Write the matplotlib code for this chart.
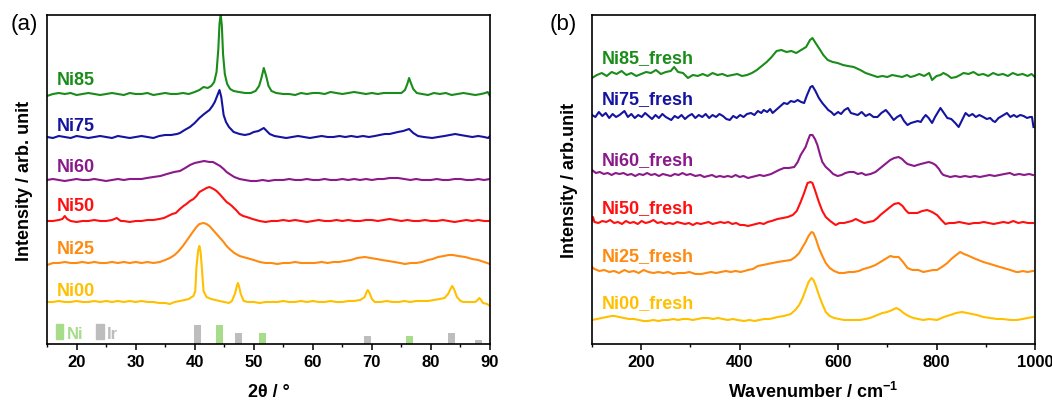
import numpy as np
import matplotlib
matplotlib.use("Agg")
import matplotlib.pyplot as plt
from matplotlib.patches import Patch
from matplotlib.ticker import MultipleLocator

plt.rcParams['font.family'] = ['Liberation Sans', 'DejaVu Sans']
plt.rcParams['mathtext.fontset'] = 'custom'
plt.rcParams['mathtext.bf'] = 'Liberation Sans:bold'
plt.rcParams['mathtext.rm'] = 'Liberation Sans:bold'

# ---- (a) XRD, 2theta vs intensity (height above each curve's baseline) ----
ni85 = [(15, -2), (16, 0), (17, 1), (18, 0), (19, 1), (20, -1), (21, 0), (22, 1), (23, 0), (24, -1),
        (25, 0), (26, 1), (27, 0), (28, -1), (29, 1), (30, 0), (31, 0), (32, 1), (33, -1), (34, 0),
        (35, 1), (36, 0), (37, 0), (38, 1), (39, 0), (40, 2), (40.8, 4), (41.5, 7), (42.2, 6), (42.8, 8),
        (43.3, 12), (43.7, 22), (44.0, 45), (44.2, 70), (44.4, 80), (44.6, 68), (44.8, 40), (45.1, 20),
        (45.5, 10), (46.0, 5), (46.6, 3), (47.5, 2), (48.5, 1), (49.5, 1), (50.3, 3), (50.9, 8), (51.3, 16),
        (51.7, 26), (52.1, 18), (52.5, 8), (53.0, 3), (53.8, 1), (55, 0), (56, 0), (57, -1), (58, 1), (59, 0),
        (60, 1), (61, 1), (62, 0), (63, 2), (64, 1), (65, 0), (66, 1), (67, 2), (68, 1), (69, 0), (70, 1),
        (71, 0), (72, 1), (73, 1), (74, 1), (75, 1), (75.6, 4), (76.0, 10), (76.3, 16), (76.6, 11), (77.0, 5),
        (77.6, 1), (78.5, 0), (79.5, -1), (80.5, 1), (81.5, 0), (82.5, 1), (83.5, -1), (84.5, 0), (85.5, 1),
        (86.5, 0), (87.5, -1), (88.5, 0), (89.2, 1), (89.6, 2), (90, -2)]
ni75 = [(15, 0), (16, -1), (17, 1), (18, 0), (19, -1), (20, 1), (21, 0), (22, -1), (23, 0), (24, 1), (25, 0),
        (26, -1), (27, 1), (28, 0), (29, -1), (30, 0), (31, 1), (32, 0), (33, -1), (34, 1), (35, 2), (36, 2),
        (37, 3), (37.5, 4), (38.3, 7), (39.2, 10), (40, 14), (40.8, 19), (41.6, 23), (42.5, 27), (43.0, 31),
        (43.4, 35), (43.8, 41), (44.2, 47), (44.5, 40), (44.9, 22), (45.3, 15), (45.8, 10), (46.6, 5),
        (47.6, 3), (48.5, 2), (49.3, 3), (50, 5), (50.8, 6), (51.7, 9), (52.2, 6), (52.7, 3), (53.5, 1),
        (54.5, 0), (55.5, -1), (56.5, 0), (57.5, 1), (58.5, 0), (59.5, -1), (60.5, 0), (61.5, 1), (62.5, 0),
        (63.5, 0), (64.5, 1), (65.5, 0), (66.5, 1), (67.5, 0), (68.5, 1), (69.5, 0), (70.5, 1), (71.3, 2),
        (72.2, 3), (73, 3), (74.4, 5), (75.3, 6), (76.3, 8), (77, 4), (77.8, 1), (78.8, 0), (80.2, -1),
        (81.2, 0), (82.3, 1), (83.2, 2), (84.1, 3), (85, 2), (86, 1), (87, 0), (88, 1), (89, 0), (89.7, -1),
        (90, 1)]
ni60 = [(15, 0), (16, 1), (17, 0), (18, -1), (19, 0), (20, 1), (21, 0), (22, 0), (23, 1), (24, 0), (25, -1),
        (26, 0), (27, 1), (28, 0), (29, 1), (30, 1), (31, 1), (31.9, 2), (33, 3), (34.2, 4), (35.3, 6),
        (36.5, 8), (37.5, 9), (38.4, 12), (39.2, 15), (40, 17), (40.8, 18), (41.6, 19), (42.5, 18), (43.1, 18),
        (43.7, 16), (44.3, 14), (44.9, 11), (45.4, 8), (45.9, 6), (46.7, 3), (47.6, 1), (48.5, 0), (49.5, -1),
        (50.5, -1), (51.5, 0), (52.5, -1), (53.5, 0), (55, 0), (56, 1), (57, 0), (58, 0), (59, 1), (60, 0),
        (61, 0), (62, 1), (63, 0), (64, 0), (65, 1), (66, 0), (67, 1), (68, 0), (69, 1), (70, 0), (71, 1),
        (72, 1), (73, 2), (74.4, 2), (75.5, 1), (76.5, 0), (77.5, 1), (78.5, 0), (80, 0), (81, 1), (82, 0),
        (83, 0), (84, 1), (85, 1), (86, 0), (87, 0), (88, 1), (89, 0), (90, 1)]
ni50 = [(15, 0), (16, 0), (17, 1), (17.6, 2), (18, 5), (18.4, 2), (19, 0), (20, -1), (21, 0), (22, 0),
        (23, 1), (24, 0), (25, 0), (26, 1), (26.8, 3), (27.5, 0), (28, 0), (29, -1), (30, 0), (31, 0), (32, 1),
        (33, 1), (34, 2), (34.8, 3), (35.5, 5), (36.2, 7), (36.8, 8), (37.5, 12), (38.1, 15), (38.6, 17),
        (39.2, 20), (39.8, 22), (40.3, 25), (40.8, 29), (41.4, 31), (42, 33), (42.5, 34), (43.2, 32),
        (43.7, 30), (44.2, 27), (44.8, 23), (45.4, 19), (45.9, 17), (46.3, 15), (47, 11), (47.6, 7),
        (48.2, 5), (48.8, 4), (49.8, 2), (51, 0), (52, -1), (53, 0), (54, 0), (55, 1), (56, 0), (57, 1),
        (58, 0), (59, -1), (60, 0), (61, 1), (62, 0), (63, 0), (64, 1), (65, 0), (66, 1), (67, 0), (68, 0),
        (69, 1), (70, 1), (71, 0), (72, 1), (73, 2), (74, 1), (75, 0), (76, 1), (77, 0), (78, 0), (79, 1),
        (80, 0), (81, 0), (82, 1), (83, 0), (84, -1), (85, 0), (86, 1), (87, 0), (88, 1), (89, 0), (90, 0)]
ni25 = [(15, -2), (16, 0), (17, 0), (18, 1), (19, 0), (20, 0), (21, 1), (22, 0), (23, 1), (24, 0), (25, 0),
        (26, 1), (27, 0), (28, 1), (29, 0), (30, 1), (31, 0), (32, 1), (33, 0), (34.1, 1), (35, 3), (35.8, 5),
        (36.6, 8), (37.3, 12), (38, 17), (38.6, 22), (39.2, 27), (39.8, 32), (40.3, 36), (40.8, 39),
        (41.5, 40), (42, 39), (42.5, 37), (43.1, 33), (43.7, 29), (44.3, 25), (44.9, 21), (45.4, 17),
        (45.9, 14), (46.7, 10), (47.6, 7), (48.8, 5), (50, 3), (51, 1), (52, 0), (53, 0), (54, -1), (55, 0),
        (56, 0), (57, 1), (58, 0), (59, 0), (60.3, 0), (61.5, 1), (62.5, 0), (63.5, 1), (64.5, 1), (65.4, 2),
        (66.5, 3), (67.5, 5), (68.8, 6), (69.8, 5), (70.8, 4), (71.7, 3), (72.8, 2), (73.8, 1), (74.8, 0),
        (75.6, -1), (76.6, 0), (77.5, 0), (78.5, 1), (79.5, 3), (80.3, 4), (81.2, 6), (82.2, 7), (83, 8),
        (83.7, 8), (84.6, 7), (85.8, 6), (87, 4), (88, 3), (89, 1), (90, -1)]
ni00 = [(15, 0), (16, 0), (17, 1), (18, 0), (19, 0), (20, 1), (21, 0), (22, 0), (23, 1), (24, 0), (25, 1),
        (26, 0), (27, 1), (28, 0), (29, 1), (30, 0), (31, 1), (32, 0), (33, 0), (34, -1), (35, -1), (35.8, -2),
        (36.6, 0), (37.5, 1), (38.3, 2), (39, 3), (39.5, 5), (39.8, 6), (40.1, 11), (40.3, 35), (40.6, 52),
        (40.8, 56), (41, 50), (41.2, 35), (41.5, 11), (42, 5), (42.8, 3), (43.5, 2), (44.2, 1), (45, 0),
        (45.8, -1), (46.3, 1), (46.8, 8), (47.1, 15), (47.3, 19), (47.5, 16), (47.8, 8), (48.3, 1), (49, 0),
        (50, 0), (51, -1), (52, 0), (53, 0), (54, 0), (55, 1), (56, 0), (57, 0), (58, 1), (59, 0), (60, 1),
        (61, 0), (62, 0), (63, 1), (64, 0), (65, 0), (66, 1), (67, 1), (68, 2), (68.8, 5), (69.1, 10),
        (69.3, 12), (69.6, 9), (70, 3), (70.5, 0), (71.5, 0), (72.5, 1), (73.5, 0), (74.5, 0), (75.5, 1),
        (76.5, 0), (77.5, 1), (78.5, 1), (79.5, 1), (80.5, 2), (81.5, 3), (82.3, 4), (82.9, 8), (83.3, 13),
        (83.6, 16), (83.9, 13), (84.4, 5), (85, 1), (85.5, 0), (86.5, 0), (87.5, 0), (87.9, 2), (88.2, 4),
        (88.5, 2), (88.8, -1), (89.5, -2), (90, -4)]

xrd_names = ['Ni85', 'Ni75', 'Ni60', 'Ni50', 'Ni25', 'Ni00']
xrd_curves = [ni85, ni75, ni60, ni50, ni25, ni00]
xrd_offsets = [250, 207, 164, 123, 81, 42]

# reference patterns (stick positions and relative heights)
ni_ref_pos = [44.2, 51.5, 76.3]
ni_ref_h = [19, 11, 8]
ir_ref_pos = [40.5, 47.4, 69.3, 83.5, 88.1]
ir_ref_h = [19, 11, 8, 11, 4]

# ---- (b) Raman, wavenumber vs intensity ----
ni85f = [(100, -3), (110, 0), (120, 2), (130, -1), (140, 3), (150, 1), (160, 4), (170, 0), (180, 2), (190, -1),
         (200, 1), (210, 3), (220, 2), (230, 5), (240, 1), (250, 3), (260, 4), (267, 8), (275, 3), (285, 2),
         (295, -3), (305, 0), (315, -1), (325, 1), (335, -1), (345, 2), (355, 0), (365, 1), (375, -1), (385, 0),
         (395, 1), (405, -1), (415, 0), (425, 2), (435, 5), (445, 9), (455, 13), (465, 18), (475, 24), (485, 25),
         (495, 23), (505, 24), (515, 22), (525, 25), (535, 28), (543, 35), (548, 37), (553, 33), (561, 27),
         (570, 20), (579, 15), (589, 13), (599, 12), (610, 10), (620, 9), (632, 8), (645, 5), (656, 2),
         (668, 0), (680, -2), (690, -1), (700, -2), (710, 0), (720, -1), (730, -2), (740, 0), (747, -2),
         (755, -1), (765, 1), (775, -1), (785, 2), (791, -5), (800, -1), (808, 0), (814, 2), (822, 0),
         (830, -3), (840, -2), (848, 0), (855, 2), (865, 1), (875, 3), (885, 0), (895, 1), (905, -1), (915, 2),
         (925, 0), (935, 1), (945, -1), (955, 2), (965, 0), (975, 1), (985, -1), (993, 1), (1000, -2)]
ni75f = [(100, 0), (107, -2), (114, 3), (121, -1), (128, 2), (135, -3), (142, 1), (149, -2), (156, 0),
         (166, 4), (173, -2), (180, 1), (187, -3), (194, 0), (201, -2), (208, 2), (215, -1), (222, -4), (229, 0),
         (236, -3), (243, 1), (250, -2), (261, -5), (268, -1), (275, -3), (282, 0), (289, -4), (296, -1),
         (303, 1), (310, -3), (317, 0), (324, -2), (331, 1), (338, -3), (345, 0), (352, -2), (359, 1), (366, -1),
         (373, -4), (380, -5), (387, -1), (394, -3), (401, 0), (408, -2), (415, 1), (423, 2), (430, 0), (437, 4),
         (444, 2), (449, 5), (456, 3), (462, 6), (467, 2), (474, 5), (481, 8), (490, 12), (497, 11), (504, 14),
         (511, 13), (518, 15), (525, 13), (531, 12), (537, 20), (544, 28), (548, 29), (554, 24), (561, 17),
         (568, 12), (575, 8), (580, 5), (586, 3), (592, 0), (600, 3), (606, 1), (613, 5), (620, 7), (626, 2),
         (633, 1), (640, 0), (648, 3), (656, -1), (664, 1), (672, -2), (680, -2), (688, 2), (697, 5), (704, 1),
         (713, -5), (720, -2), (727, 0), (734, -6), (741, -10), (748, -8), (755, -7), (762, -6), (768, -7),
         (773, -3), (778, 0), (784, -3), (791, -8), (797, -2), (803, 3), (808, 7), (815, 2), (822, -3),
         (830, -4), (838, -8), (845, -12), (852, -5), (859, 2), (866, -1), (873, 1), (880, -2), (887, 0),
         (895, -2), (902, -4), (909, -3), (915, -6), (919, -7), (926, -3), (933, -1), (943, 2), (950, -2),
         (957, 0), (963, -2), (970, 0), (977, -1), (984, -3), (990, -2), (994, -2), (997, -12)]
ni60f = [(100, 5), (108, 2), (116, 3), (124, 1), (132, 2), (140, 0), (148, 2), (156, 1), (164, 2), (172, 0),
         (180, 1), (188, -1), (196, 1), (204, 0), (212, 2), (220, 0), (228, 1), (236, -1), (244, 1), (252, 0),
         (260, -1), (268, 1), (276, 0), (284, 2), (292, 0), (300, 1), (310, -1), (320, 0), (328, -2), (336, -1),
         (344, 0), (352, -2), (360, -1), (368, -2), (376, -1), (384, -2), (392, 0), (400, -2), (408, -1),
         (417, -3), (425, -2), (433, -1), (441, 0), (449, -1), (457, 0), (464, 1), (472, 3), (480, 5), (490, 7),
         (500, 7), (511, 8), (518, 13), (524, 20), (529, 24), (534, 28), (539, 35), (543, 40), (548, 40),
         (553, 36), (558, 30), (563, 21), (568, 13), (575, 8), (582, 5), (590, 1), (599, -1), (607, 0),
         (615, 2), (623, 3), (632, 3), (640, 1), (648, 2), (656, 0), (666, 1), (676, 3), (686, 7), (696, 11),
         (706, 15), (714, 17), (723, 18), (730, 16), (736, 13), (741, 11), (748, 10), (755, 9), (761, 10),
         (768, 11), (776, 12), (784, 13), (791, 12), (798, 10), (805, 6), (810, 2), (814, 0), (821, -1),
         (828, -2), (838, -1), (848, -2), (858, -1), (868, -2), (878, -1), (888, -2), (898, -1), (908, 0),
         (918, -1), (928, 0), (938, 1), (949, 2), (958, 0), (968, 1), (978, 0), (988, 1), (996, 0)]
ni50f = [(100, 3), (102, 6), (105, 1), (113, 0), (121, 2), (129, 1), (137, 3), (145, 0), (153, 1), (161, -1),
         (169, 2), (177, 0), (185, 1), (193, -1), (201, 2), (209, 0), (217, 1), (225, 3), (233, 0), (241, 1),
         (249, -1), (257, 0), (265, -1), (273, 1), (281, 0), (289, -1), (297, 0), (305, -2), (313, 0),
         (321, -1), (329, 0), (337, 1), (345, -1), (353, 0), (361, 1), (369, 0), (377, 1), (385, -1), (393, 0),
         (401, -2), (409, -2), (417, -3), (425, -2), (433, -1), (441, 0), (449, -1), (457, 1), (465, 2),
         (477, 4), (488, 5), (498, 6), (508, 8), (516, 12), (524, 21), (531, 30), (538, 40), (544, 41),
         (548, 40), (553, 33), (557, 27), (561, 21), (568, 12), (575, 6), (584, 2), (595, -2), (603, 0),
         (612, 0), (620, 1), (628, 2), (636, 4), (644, 2), (653, 0), (662, 1), (672, 2), (680, 5), (686, 8),
         (696, 12), (706, 16), (714, 19), (723, 20), (731, 17), (737, 13), (743, 10), (751, 10), (761, 10),
         (771, 12), (781, 13), (791, 11), (801, 8), (810, 3), (818, -1), (826, 0), (836, 0), (846, 1), (856, 0),
         (866, -1), (876, 0), (886, 0), (896, 1), (906, 0), (916, -1), (926, 0), (936, 1), (946, 0), (956, 2),
         (966, 0), (976, 1), (986, 0), (996, 0)]
ni25f = [(100, 5), (105, 3), (115, 1), (125, 2), (135, 0), (145, 1), (155, -1), (166, 2), (175, 0), (185, 1),
         (195, -1), (205, 2), (215, 0), (225, -1), (235, 0), (245, -1), (255, 0), (265, -2), (275, -1),
         (288, -1), (298, 0), (310, -2), (322, -2), (332, -1), (342, 0), (352, -1), (362, 0), (372, 1),
         (382, 0), (392, 1), (402, 0), (410, 1), (417, 2), (427, 3), (437, 6), (447, 7), (457, 8), (467, 9),
         (477, 10), (490, 11), (504, 12), (513, 15), (521, 19), (528, 25), (534, 30), (540, 36), (546, 40),
         (550, 39), (555, 33), (561, 24), (568, 16), (575, 9), (583, 4), (592, 1), (602, -1), (612, -1),
         (622, 0), (632, 0), (642, 1), (652, 3), (666, 5), (676, 7), (686, 10), (696, 13), (706, 16), (714, 15),
         (723, 15), (732, 10), (741, 4), (751, 2), (763, 2), (773, 0), (783, 1), (793, 2), (801, 2), (811, 5),
         (822, 9), (830, 13), (840, 17), (848, 20), (856, 18), (866, 16), (875, 14), (885, 12), (895, 10),
         (909, 8), (922, 6), (936, 4), (950, 2), (962, 0), (967, 0), (975, 1), (985, 0), (996, 1)]
ni00f = [(100, 0), (110, 1), (120, 2), (130, 3), (140, 4), (146, 4), (155, 3), (165, 2), (175, 1), (185, 1),
         (195, 0), (205, -1), (214, -1), (225, 0), (235, -1), (245, 0), (255, 0), (265, 1), (275, 0), (285, 1),
         (295, 1), (305, 0), (315, 1), (325, 2), (336, 2), (346, 1), (356, 2), (366, 1), (376, 0), (386, 1),
         (396, 0), (409, -1), (420, 0), (430, -1), (440, 0), (450, 1), (460, 1), (470, 2), (477, 3), (490, 4),
         (504, 6), (513, 10), (521, 15), (528, 22), (534, 30), (540, 38), (546, 42), (550, 40), (555, 34),
         (561, 25), (568, 16), (575, 8), (583, 4), (592, 2), (602, 1), (612, 0), (622, 0), (632, 0), (645, 0),
         (655, 1), (665, 2), (680, 5), (690, 7), (700, 8), (710, 10), (718, 12), (726, 10), (733, 7), (743, 4),
         (753, 2), (763, 1), (773, 0), (785, 1), (801, 0), (815, 3), (828, 5), (840, 7), (852, 8), (862, 7),
         (872, 6), (882, 5), (895, 3), (909, 2), (923, 1), (935, 1), (950, 0), (963, 0), (975, 1), (985, 2),
         (996, 3)]

raman_names = ['Ni85_fresh', 'Ni75_fresh', 'Ni60_fresh', 'Ni50_fresh', 'Ni25_fresh', 'Ni00_fresh']
raman_curves = [ni85f, ni75f, ni60f, ni50f, ni25f, ni00f]
raman_offsets = [269, 229, 169, 121, 72, 24]

colors = ['#1a8c1a', '#1414a0', '#8a1a8a', '#ff1010', '#ff8a10', '#ffc000']
xrd_label_y = [0.805, 0.663, 0.538, 0.42, 0.289, 0.164]
raman_label_y = [0.872, 0.745, 0.562, 0.416, 0.268, 0.125]
ni_color = '#a6dc8a'
ir_color = '#bdbdbd'

fig = plt.figure(figsize=(10.52, 4.02), dpi=100)
ax1 = fig.add_axes([0.0447, 0.1418, 0.4211, 0.8184])
ax2 = fig.add_axes([0.5627, 0.1418, 0.4211, 0.8184])

for curve, off, c in zip(xrd_curves, xrd_offsets, colors):
    x, y = np.array(curve).T
    ax1.plot(x, y + off, color=c, lw=1.5)
ax1.bar(ir_ref_pos, ir_ref_h, width=1.2, color=ir_color)
ax1.bar(ni_ref_pos, ni_ref_h, width=1.2, color=ni_color)
for name, ly, c in zip(xrd_names, xrd_label_y, colors):
    ax1.text(0.023, ly, name, transform=ax1.transAxes, color=c, fontsize=13,
             fontweight='bold', va='center')
handles = [Patch(color=ni_color, label='Ni'), Patch(color=ir_color, label='Ir')]
ax1.legend(handles=handles, loc='lower left', bbox_to_anchor=(0.012, 0.0), ncol=2, frameon=False,
           handlelength=0.45, handleheight=1.0, handletextpad=0.2, columnspacing=0.8,
           borderaxespad=0.1, borderpad=0.1, labelcolor=[ni_color, ir_color],
           prop={'weight': 'bold', 'size': 12})
ax1.set_xlim(15, 90)
ax1.xaxis.set_major_locator(MultipleLocator(10))
ax1.xaxis.set_minor_locator(MultipleLocator(5))
ax1.set_xlabel('2θ / °', fontsize=13, fontweight='bold', labelpad=10)
ax1.set_ylabel('Intensity / arb. unit', fontsize=13, fontweight='bold', labelpad=10)

for curve, off, c in zip(raman_curves, raman_offsets, colors):
    x, y = np.array(curve).T
    ax2.plot(x, y + off, color=c, lw=1.5)
for name, ly, c in zip(raman_names, raman_label_y, colors):
    ax2.text(0.023, ly, name, transform=ax2.transAxes, color=c, fontsize=13,
             fontweight='bold', va='center')
ax2.set_xlim(100, 1000)
ax2.xaxis.set_major_locator(MultipleLocator(200))
ax2.xaxis.set_minor_locator(MultipleLocator(100))
ax2.set_xlabel(r'Wavenumber / cm$^{\mathbf{-1}}$', fontsize=13, fontweight='bold', labelpad=9)
ax2.set_ylabel('Intensity / arb.unit', fontsize=13, fontweight='bold', labelpad=10)

for ax in (ax1, ax2):
    ax.set_ylim(0, 329)
    ax.set_yticks([])
    for s in ax.spines.values():
        s.set_linewidth(1.2)
    ax.tick_params(axis='x', which='major', direction='out', length=4, width=1.1, labelsize=12, pad=3)
    ax.tick_params(axis='x', which='minor', direction='out', length=2.5, width=1.0)
    for lab in ax.get_xticklabels():
        lab.set_fontweight('bold')

fig.text(0.010, 0.925, '(a)', fontsize=16)
fig.text(0.522, 0.925, '(b)', fontsize=16)

fig.savefig('out.png', dpi=100)
